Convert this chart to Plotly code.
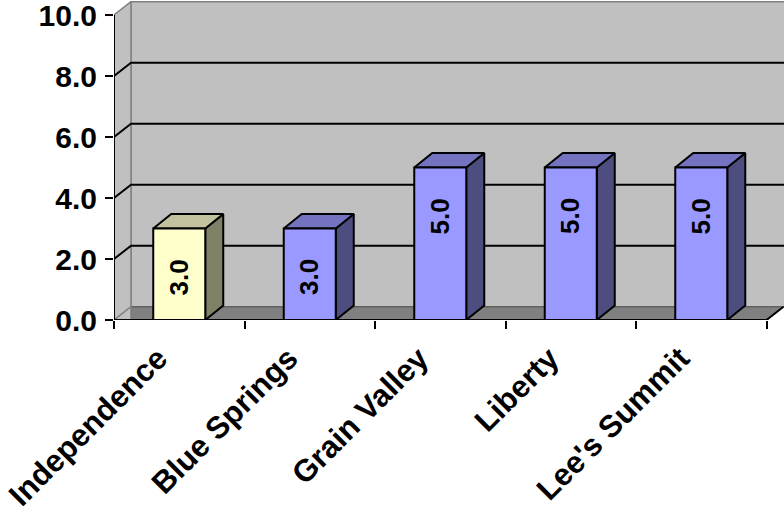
import plotly.graph_objects as go

# Chart data
categories = ["Independence", "Blue Springs", "Grain Valley", "Liberty", "Lee's Summit"]
values = [3.0, 3.0, 5.0, 5.0, 5.0]
y_ticks = [0, 2, 4, 6, 8, 10]
y_tick_text = ["0.0", "2.0", "4.0", "6.0", "8.0", "10.0"]

# Face colours (front, top, side) for each bar
front_colors = ["#FFFFCC", "#9999FF", "#9999FF", "#9999FF", "#9999FF"]
top_colors = ["#C2C29E", "#7373C0", "#7373C0", "#7373C0", "#7373C0"]
side_colors = ["#808066", "#4D4D80", "#4D4D80", "#4D4D80", "#4D4D80"]

W, H = 784, 512
ML, MB = 114, 192
PX_X = 130.5          # pixels per category
PX_Y = 30.5           # pixels per value unit
plot_w = W - ML
plot_h = H - MB
x0 = 0.5
x1 = x0 + len(categories)
x_max = x0 + plot_w / PX_X
y_max = plot_h / PX_Y

# Oblique depth offsets, in axis units
wall_dx, wall_dy = 17.0 / PX_X, 13.3 / PX_Y
bar_dx, bar_dy = 18.0 / PX_X, 14.5 / PX_Y
half_w = 26.0 / PX_X

FONT = "Liberation Sans, Arial, sans-serif"
fig = go.Figure()


def poly(xs, ys, fill, line_color="black", width=2):
    fig.add_trace(go.Scatter(
        x=xs + [xs[0]], y=ys + [ys[0]], mode="lines", fill="toself",
        fillcolor=fill, line=dict(color=line_color, width=width),
        hoverinfo="skip", showlegend=False))


def seg(xs, ys, color="black", width=2):
    fig.add_trace(go.Scatter(
        x=xs, y=ys, mode="lines", line=dict(color=color, width=width),
        hoverinfo="skip", showlegend=False))


top = y_ticks[-1]
# back wall
poly([x0 + wall_dx, x_max + 1, x_max + 1, x0 + wall_dx],
     [wall_dy, wall_dy, top + wall_dy, top + wall_dy], "#C0C0C0", "#808080", 1.5)
# floor
poly([x0 + wall_dx, x1, x1 + wall_dx, x_max + 1, x_max + 1, x0 + wall_dx],
     [0, 0, wall_dy, wall_dy, wall_dy, wall_dy], "#808080", "#606060", 1.5)
# side wall
poly([x0, x0 + wall_dx, x0 + wall_dx, x0],
     [0, 0, top + wall_dy, top], "#C0C0C0", "#808080", 1.5)
seg([x0, x0 + wall_dx], [0, wall_dy], "#808080", 1.5)

# gridlines on the walls
for t in y_ticks[1:-1]:
    seg([x0, x0 + wall_dx, x_max + 1], [t, t + wall_dy, t + wall_dy], "black", 2)
seg([x1, x1 + wall_dx], [0, wall_dy], "black", 2)

# bars
for i, v in enumerate(values):
    c = i + 1
    l, r = c - half_w, c + half_w
    poly([r, r + bar_dx, r + bar_dx, r], [0, bar_dy, v + bar_dy, v], side_colors[i])
    poly([l, r, r + bar_dx, l + bar_dx], [v, v, v + bar_dy, v + bar_dy], top_colors[i])
    poly([l, r, r, l], [0, 0, v, v], front_colors[i])
    fig.add_annotation(x=c, y=v - 1.6, text=f"{v:.1f}", textangle=-90,
                       showarrow=False, xref="x", yref="y",
                       font=dict(family=FONT, size=26, color="black", weight="bold"))

# front axes
seg([x0, x0], [0, top], "black", 2)
seg([x0, x1], [0, 0], "black", 2)

fig.add_trace(go.Scatter(x=[x0], y=[0], xaxis="x2", mode="markers",
                         marker=dict(opacity=0), hoverinfo="skip", showlegend=False))

fig.update_layout(
    width=W, height=H,
    margin=dict(l=ML, r=0, t=0, b=MB, autoexpand=False),
    paper_bgcolor="white", plot_bgcolor="white",
    xaxis=dict(range=[x0, x_max], tickvals=list(range(1, len(categories) + 1)),
               ticktext=categories, tickangle=-45, ticks="", showgrid=False,
               zeroline=False, showline=False, ticklabelshift=-21,
               ticklabelstandoff=13, ticklabeloverflow="allow", automargin=False,
               tickfont=dict(family=FONT, size=31, color="black", weight="bold")),
    xaxis2=dict(range=[x0, x_max], overlaying="x", anchor="y", side="bottom",
                tickvals=[x0 + k for k in range(len(categories) + 1)],
                ticks="outside", ticklen=8, tickwidth=2, tickcolor="black",
                showticklabels=False, showgrid=False, zeroline=False, showline=False),
    yaxis=dict(range=[0, y_max], tickvals=y_ticks, ticktext=y_tick_text,
               ticks="outside", ticklen=8, tickwidth=2, tickcolor="black",
               showgrid=False, zeroline=False, showline=False, ticklabelstandoff=2,
               ticklabeloverflow="allow", automargin=False,
               tickfont=dict(family=FONT, size=30, color="black", weight="bold")),
)

fig.write_html("out.html")
